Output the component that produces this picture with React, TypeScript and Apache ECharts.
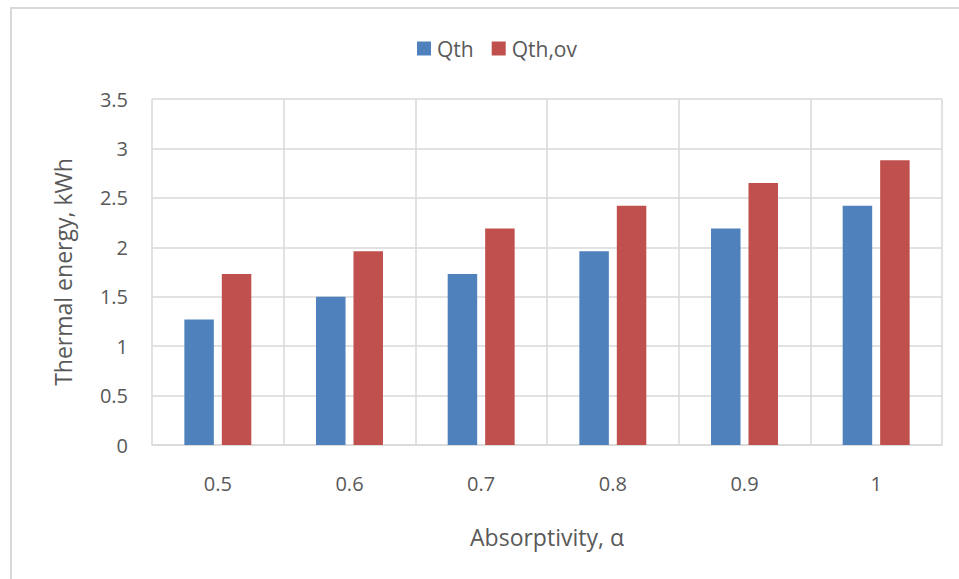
import React, { useEffect, useRef } from "react";
import * as echarts from "echarts";

// Absorptivity values on the x axis
const categories = ["0.5", "0.6", "0.7", "0.8", "0.9", "1"];
// Thermal energy, kWh
const qth = [1.27, 1.5, 1.73, 1.96, 2.19, 2.42];
const qthOv = [1.73, 1.96, 2.19, 2.42, 2.65, 2.88];

const TEXT = "#595959";
const GRID = "#d9d9d9";
const FONT = "'Open Sans', sans-serif";

export default function App() {
  const ref = useRef<HTMLDivElement>(null);

  useEffect(() => {
    if (!ref.current) return;
    const chart = echarts.init(ref.current, undefined, { renderer: "svg" });
    chart.setOption({
      animation: false,
      backgroundColor: "#ffffff",
      textStyle: { fontFamily: FONT, color: TEXT },
      graphic: [
        {
          type: "rect",
          shape: { x: 11, y: 8, width: 1000, height: 1000 },
          style: { fill: "none", stroke: GRID, lineWidth: 2 },
          silent: true,
        },
      ],
      legend: {
        top: 33,
        left: 412,
        itemWidth: 14,
        itemHeight: 14,
        itemGap: 18,
        icon: "rect",
        textStyle: { fontFamily: FONT, fontSize: 21, color: TEXT, padding: [0, 0, 0, 1] },
        data: ["Qth", "Qth,ov"],
      },
      grid: { left: 152, right: 17, top: 99, bottom: 134, containLabel: false },
      xAxis: {
        type: "category",
        data: categories,
        name: "Absorptivity, α",
        nameLocation: "middle",
        nameGap: 80,
        nameTextStyle: { fontFamily: FONT, fontSize: 23, color: TEXT },
        axisLine: { show: true, lineStyle: { color: GRID, width: 1.5 } },
        axisTick: { show: false },
        splitLine: { show: true, lineStyle: { color: GRID, width: 1.5 } },
        axisLabel: { fontFamily: FONT, fontSize: 20, color: TEXT, margin: 28 },
      },
      yAxis: {
        type: "value",
        min: 0,
        max: 3.5,
        interval: 0.5,
        name: "Thermal energy, kWh",
        nameLocation: "middle",
        nameGap: 78,
        nameTextStyle: { fontFamily: FONT, fontSize: 23, color: TEXT },
        axisLine: { show: false },
        axisTick: { show: false },
        splitLine: { show: true, lineStyle: { color: GRID, width: 1.5 } },
        axisLabel: { fontFamily: FONT, fontSize: 20, color: TEXT, margin: 24 },
      },
      series: [
        {
          name: "Qth",
          type: "bar",
          data: qth,
          barWidth: 29.5,
          barGap: "27%",
          itemStyle: { color: "#4f81bd" },
        },
        {
          name: "Qth,ov",
          type: "bar",
          data: qthOv,
          barWidth: 29.5,
          barGap: "27%",
          itemStyle: { color: "#c0504d" },
        },
      ],
    });
    return () => chart.dispose();
  }, []);

  return (
    <div
      ref={ref}
      style={{ position: "fixed", left: 0, top: 0, width: 959, height: 579 }}
    />
  );
}
